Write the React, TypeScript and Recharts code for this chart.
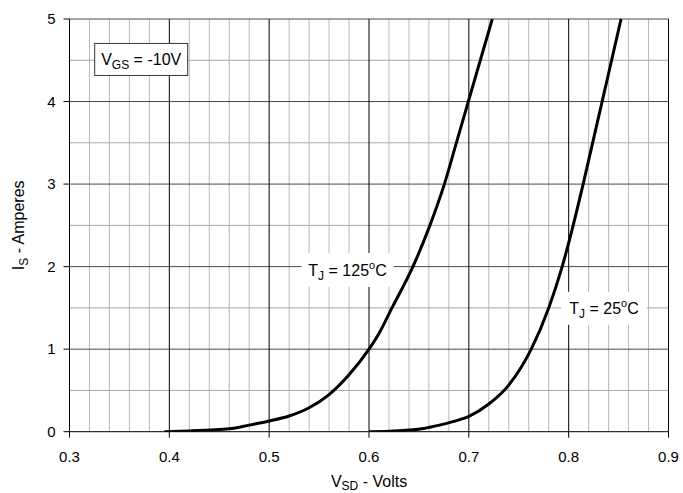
import React from 'react';
import { LineChart, Line, XAxis, YAxis, ReferenceLine, ReferenceDot } from 'recharts';

// 125 °C curve
const v125 = [0.395, 0.42, 0.44, 0.46, 0.48, 0.50, 0.52, 0.54, 0.56, 0.58, 0.60, 0.61, 0.623, 0.644, 0.661, 0.6755, 0.6875, 0.6995, 0.7115, 0.7235];
const i125 = [0, 0.01, 0.02, 0.035, 0.08, 0.13, 0.19, 0.29, 0.45, 0.69, 1.0, 1.19, 1.5, 2.0, 2.5, 3.0, 3.5, 4.0, 4.5, 5.0];

// 25 °C curve
const v25 = [0.60, 0.62, 0.64, 0.655, 0.6705, 0.685, 0.70, 0.72, 0.74, 0.7625, 0.780, 0.7935, 0.8045, 0.8145, 0.824, 0.8335, 0.843, 0.8525];
const i25 = [0, 0.005, 0.02, 0.04, 0.08, 0.125, 0.185, 0.335, 0.565, 1.0, 1.5, 2.0, 2.5, 3.0, 3.5, 4.0, 4.5, 5.0];

const xTicks = [0.3, 0.4, 0.5, 0.6, 0.7, 0.8, 0.9];
const yTicks = [0, 1, 2, 3, 4, 5];
const xMajor = [0.4, 0.5, 0.6, 0.7, 0.8, 0.9];
const xMinor = [
  0.32, 0.34, 0.36, 0.38, 0.42, 0.44, 0.46, 0.48, 0.52, 0.54, 0.56, 0.58,
  0.62, 0.64, 0.66, 0.68, 0.72, 0.74, 0.76, 0.78, 0.82, 0.84, 0.86, 0.88,
];
const yMajor = [1, 2, 3, 4, 5];
const yMinor = [0.5, 1.5, 2.5, 3.5, 4.5];

const data125 = v125.map((v, k) => ({ v, i: i125[k] }));
const data25 = v25.map((v, k) => ({ v, i: i25[k] }));

const FONT = '"Liberation Sans", Arial, sans-serif';

const TjText = ({ temp }: { temp: string }) => (
  <>
    T<tspan fontSize={12} dy={4}>J</tspan>
    <tspan dy={-4}> = {temp}</tspan>
    <tspan fontSize={11} dy={-7}>o</tspan>
    <tspan dy={7}>C</tspan>
  </>
);

const boxShape = (w: number, h: number, border: boolean, content: React.ReactNode) => (p: any) => (
  <g>
    <rect
      x={p.cx - w / 2}
      y={p.cy - h / 2}
      width={w}
      height={h}
      fill="#fff"
      stroke={border ? '#333' : 'none'}
      strokeWidth={1}
    />
    <text x={p.cx} y={p.cy + 6} textAnchor="middle" fontSize={16} fontFamily={FONT} fill="#000">
      {content}
    </text>
  </g>
);

const YTitle = (props: any) => {
  const vb = props.viewBox;
  const cx = vb.x - 11;
  const cy = vb.y + vb.height / 2;
  return (
    <text x={cx} y={cy} transform={`rotate(-90 ${cx} ${cy})`} textAnchor="middle" fontSize={16} fontFamily={FONT} fill="#000" dy={6}>
      I<tspan fontSize={12} dy={4}>S</tspan>
      <tspan dy={-4}> - Amperes</tspan>
    </text>
  );
};

const XTitle = (props: any) => {
  const vb = props.viewBox;
  return (
    <text x={vb.x + vb.width / 2} y={vb.y + 55} textAnchor="middle" fontSize={16} fontFamily={FONT} fill="#000">
      V<tspan fontSize={12} dy={3}>SD</tspan>
      <tspan dy={-3}> - Volts</tspan>
    </text>
  );
};

export default function App() {
  return (
    <div style={{ position: 'absolute', left: 0, top: 0, width: 683, height: 493, background: '#fff' }}>
      <LineChart width={683} height={493} margin={{ top: 19, right: 14.5, left: 29.5, bottom: 31.3 }}>
        <XAxis
          type="number"
          dataKey="v"
          domain={[0.3, 0.9]}
          ticks={xTicks}
          tickFormatter={(t: number) => t.toFixed(1)}
          allowDataOverflow
          height={30}
          tickSize={6}
          tickMargin={14}
          stroke="#000"
          tick={{ fill: '#000', fontSize: 15, fontFamily: FONT }}
          label={<XTitle />}
        />
        <YAxis
          type="number"
          dataKey="i"
          domain={[0, 5]}
          ticks={yTicks}
          allowDataOverflow
          width={40}
          tickSize={6}
          tickMargin={8}
          stroke="#000"
          tick={{ fill: '#000', fontSize: 15, fontFamily: FONT }}
          label={<YTitle />}
        />
        {xMinor.map((x) => (
          <ReferenceLine key={'xm' + x} x={x} stroke="#b8b8b8" strokeWidth={1} />
        ))}
        {yMinor.map((y) => (
          <ReferenceLine key={'ym' + y} y={y} stroke="#a8a8a8" strokeWidth={1} />
        ))}
        {yMajor.map((y) => (
          <ReferenceLine key={'yM' + y} y={y} stroke="#484848" strokeWidth={1} />
        ))}
        {xMajor.map((x) => (
          <ReferenceLine key={'xM' + x} x={x} stroke="#000" strokeWidth={1} />
        ))}
        <Line
          data={data125}
          dataKey="i"
          type="monotone"
          stroke="#000"
          strokeWidth={3}
          dot={false}
          isAnimationActive={false}
        />
        <Line
          data={data25}
          dataKey="i"
          type="monotone"
          stroke="#000"
          strokeWidth={3}
          dot={false}
          isAnimationActive={false}
        />
        <ReferenceDot
          x={0.3718}
          y={4.51}
          r={0}
          shape={boxShape(93, 32, true, (
            <>
              V<tspan fontSize={12} dy={4}>GS</tspan>
              <tspan dy={-4}> = -10V</tspan>
            </>
          ))}
        />
        <ReferenceDot x={0.5785} y={1.96} r={0} shape={boxShape(92, 34, false, <TjText temp="125" />)} />
        <ReferenceDot x={0.8354} y={1.495} r={0} shape={boxShape(85, 33, false, <TjText temp="25" />)} />
      </LineChart>
    </div>
  );
}
